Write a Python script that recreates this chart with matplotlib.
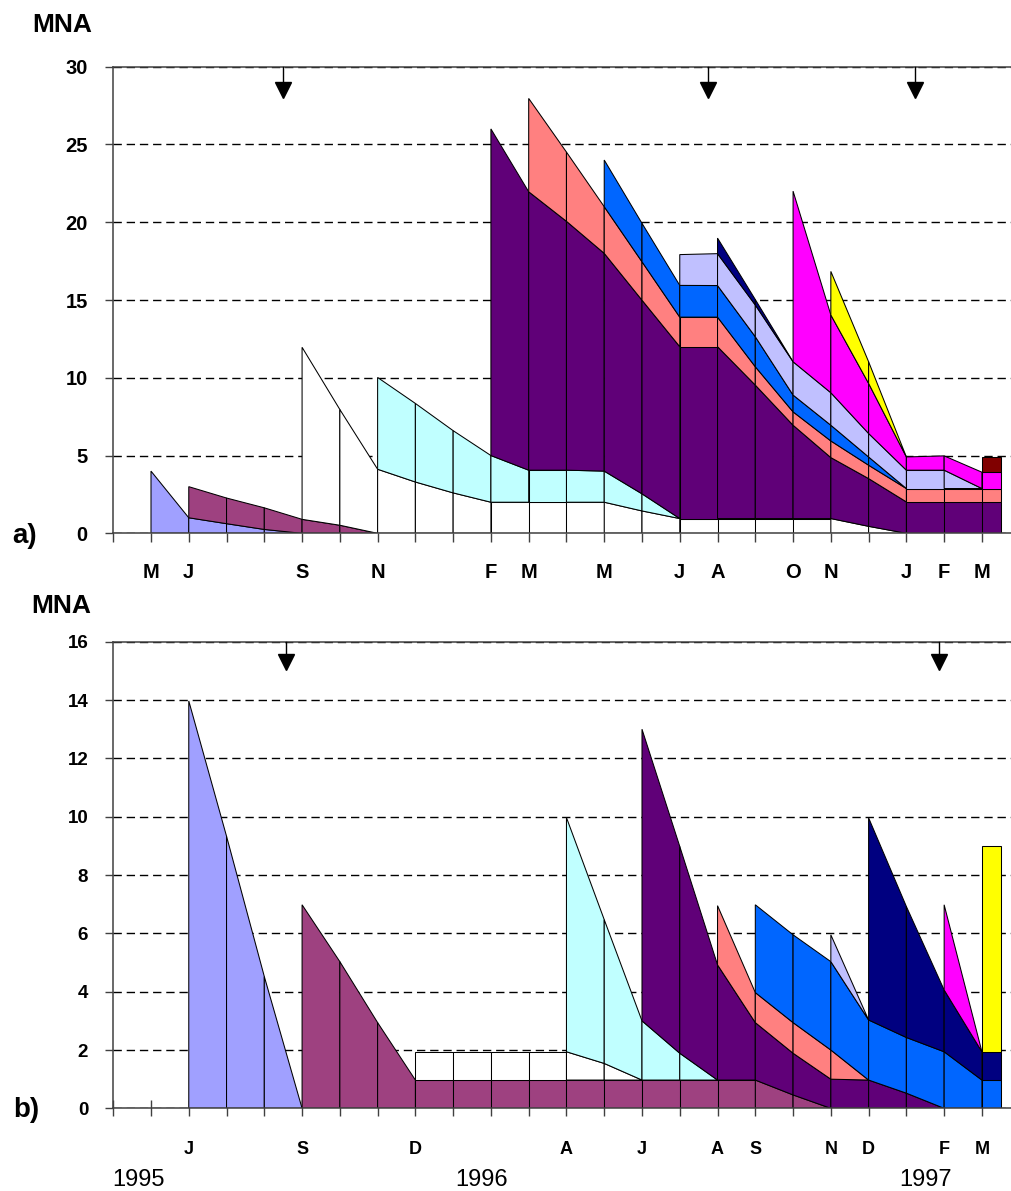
import matplotlib
matplotlib.use('Agg')
import matplotlib.pyplot as plt
import numpy as np
from matplotlib.transforms import blended_transform_factory

plt.rcParams['font.family'] = ['Liberation Sans', 'DejaVu Sans']

# month index 0 = April 1995 ... 23 = March 1997, last entry is the half-month tail
month_pos = list(range(24)) + [23.5]

# ---- panel a: each cohort = (first month index, band height per month) ----
a_starts = [1, 2, 5, 7, 10, 11, 13, 15, 16, 18, 19, 23]
a_periwinkle = [4.0, 1.0, 0.62, 0.25, 0.0]
a_plum = [2.0, 1.65, 1.39, 0.9, 0.52, 0.0]
a_white = [11.06, 7.44, 4.12, 3.3, 2.6, 2.0, 2.0, 2.0, 2.0, 1.44,
           0.95, 0.95, 0.95, 0.95, 0.95, 0.45, 0.0]
a_cyan = [5.9, 5.05, 4.0, 3.0, 2.06, 2.06, 2.0, 1.1, 0.0]
a_purple = [21.0, 17.9, 16.0, 14.0, 12.45, 11.05, 11.05, 8.58, 6.0, 3.92,
            3.07, 2.02, 2.02, 2.02, 2.02]
a_salmon = [6.0, 4.45, 3.0, 2.47, 1.9, 1.9, 1.18, 0.86, 1.07, 0.86,
            0.86, 0.86, 0.86, 0.86]
a_blue = [3.0, 2.47, 2.04, 2.03, 1.93, 1.08, 1.01, 0.53, 0.0]
a_lavender = [1.98, 2.05, 2.04, 2.14, 2.09, 1.51, 1.18, 1.18, 0.0]
a_navy = [1.0, 0.35, 0.0]
a_magenta = [10.97, 5.0, 3.22, 0.85, 0.92, 1.05, 1.05]
a_yellow = [2.8, 1.39, 0.0]
a_darkred = [0.97, 0.97]
a_cohorts = [a_periwinkle, a_plum, a_white, a_cyan, a_purple, a_salmon,
             a_blue, a_lavender, a_navy, a_magenta, a_yellow, a_darkred]
a_labels = {1: 'M', 2: 'J', 5: 'S', 7: 'N', 10: 'F', 11: 'M', 13: 'M',
            15: 'J', 16: 'A', 18: 'O', 19: 'N', 21: 'J', 22: 'F', 23: 'M'}
a_arrows = [4.5, 15.75, 21.23]

# ---- panel b ----
b_starts = [2, 5, 8, 12, 14, 16, 17, 19, 20, 22, 23]
b_periwinkle = [13.97, 9.33, 4.52, 0.0]
b_plum = [6.98, 5.03, 2.94, 0.97, 0.97, 0.97, 0.97, 0.97, 0.97, 0.97,
          0.97, 0.97, 0.97, 0.46, 0.0]
b_white = [0.97, 0.97, 0.97, 0.97, 0.97, 0.57, 0.0]
b_cyan = [8.03, 4.93, 2.03, 0.92, 0.0]
b_purple = [10.0, 7.09, 3.95, 1.97, 1.43, 1.0, 0.97, 0.52, 0.0]
b_salmon = [2.03, 1.03, 1.05, 1.0, 0.0]
b_blue = [3.01, 3.01, 3.03, 2.06, 1.91, 1.94, 0.97, 0.97]
b_lavender = [0.92, 0.0]
b_navy = [6.93, 4.49, 2.12, 0.97, 0.97]
b_magenta = [2.92, 0.0]
b_yellow = [7.06, 7.06]
b_cohorts = [b_periwinkle, b_plum, b_white, b_cyan, b_purple, b_salmon,
             b_blue, b_lavender, b_navy, b_magenta, b_yellow]
b_labels = {2: 'J', 5: 'S', 8: 'D', 12: 'A', 14: 'J', 16: 'A', 17: 'S',
            19: 'N', 20: 'D', 22: 'F', 23: 'M'}
b_arrows = [4.57, 21.86]

years = ['1995', '1996', '1997']
year_pos = [0.66, 9.76, 21.5]

colors = ['#A0A0FF', '#9E4180', '#FFFFFF', '#C0FFFF', '#600078', '#FF8080',
          '#0066FF', '#C0C0FF', '#000080', '#FF00FF', '#FFFF00', '#800000']
axis_col = '#404040'


def draw_cohorts(ax, starts, cohorts):
    n = len(month_pos)
    bands = np.zeros((len(cohorts), n))
    for k, (s, vals) in enumerate(zip(starts, cohorts)):
        bands[k, s:s + len(vals)] = vals
    tops = np.cumsum(bands, axis=0)
    bots = tops - bands
    xs = np.array(month_pos, dtype=float)
    for k, (s, vals) in enumerate(zip(starts, cohorts)):
        for i in range(s, s + len(vals) - 1):
            ax.fill([xs[i], xs[i + 1], xs[i + 1], xs[i]],
                    [bots[k, i], bots[k, i + 1], tops[k, i + 1], tops[k, i]],
                    facecolor=colors[k], edgecolor='black', lw=0.75, zorder=1)


def setup(ax, ymax, ystep, labels, arrows, ysize, xsize, ypad, xpad,
          tickdir, ticklen, ms, head_y):
    ax.set_xlim(0, 23.77)
    ax.set_ylim(0, ymax)
    ax.set_yticks(np.arange(0, ymax + 0.1, ystep))
    ax.set_xticks(range(24))
    ax.set_xticklabels([labels.get(i, '') for i in range(24)])
    ax.yaxis.grid(True, linestyle=(0, (6, 3.5)), color='black', lw=1.0)
    ax.set_axisbelow(True)
    ax.spines['right'].set_visible(False)
    for side in ['left', 'top', 'bottom']:
        ax.spines[side].set_color(axis_col)
        ax.spines[side].set_linewidth(1.1)
    ax.tick_params(axis='y', direction='out', length=5.8, width=1.0,
                   color=axis_col, pad=ypad, labelsize=ysize)
    ax.tick_params(axis='x', direction=tickdir, length=ticklen, width=1.0,
                   color=axis_col, pad=xpad, labelsize=xsize)
    for lab in ax.get_xticklabels() + ax.get_yticklabels():
        lab.set_fontweight('bold')
    trans = blended_transform_factory(ax.transData, ax.transAxes)
    for xa in arrows:
        ax.plot([xa, xa], [1.0, head_y], color='black', lw=1.0,
                transform=trans, clip_on=False, zorder=5)
        ax.plot(xa, head_y, marker='v', ms=ms, color='black',
                transform=trans, clip_on=False, zorder=5)


fig = plt.figure(figsize=(10.11, 11.91), dpi=100)
ax_a = fig.add_axes([0.112, 0.5522, 0.888, 0.3918])
ax_b = fig.add_axes([0.112, 0.0694, 0.888, 0.3918])

draw_cohorts(ax_a, a_starts, a_cohorts)
draw_cohorts(ax_b, b_starts, b_cohorts)

setup(ax_a, 30, 5, a_labels, a_arrows, 14.5, 14.5, 12.5, 14.3, 'out', 6.8, 12, 0.951)
setup(ax_b, 16, 2, b_labels, b_arrows, 13.5, 13, 12.2, 17.8, 'inout', 11.2, 11, 0.957)

tb = blended_transform_factory(ax_b.transData, ax_b.transAxes)
for yr, xp in zip(years, year_pos):
    ax_b.text(xp, -0.1665, yr, transform=tb, ha='center', va='baseline',
              fontsize=17)

fig.text(62 / 1011, 1 - 31.7 / 1191, 'MNA', ha='center', va='baseline',
         fontsize=19, fontweight='bold')
fig.text(61 / 1011, 1 - 613.3 / 1191, 'MNA', ha='center', va='baseline',
         fontsize=19, fontweight='bold')
fig.text(12.7 / 1011, 1 - 543 / 1191, 'a)', ha='left', va='baseline',
         fontsize=20, fontweight='bold')
fig.text(13 / 1011, 1 - 1116.7 / 1191, 'b)', ha='left', va='baseline',
         fontsize=20, fontweight='bold')

fig.savefig('out.png', dpi=100)
